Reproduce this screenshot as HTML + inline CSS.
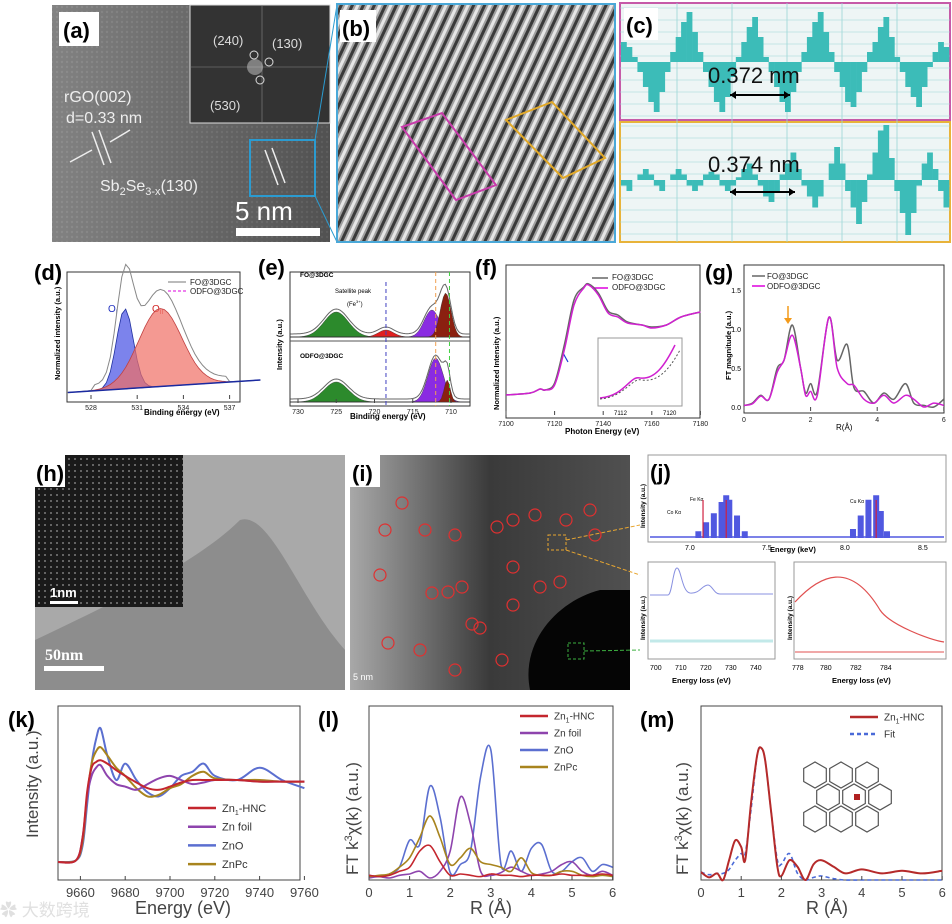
<!DOCTYPE html>
<html><head><meta charset="utf-8"><style>
html,body{margin:0;padding:0;background:#fff;}
svg{display:block;font-family:"Liberation Sans",Arial,sans-serif;}
.lab{font-size:22px;font-weight:bold;}
.t{font-size:8px;fill:#222;}
</style></head><body>
<svg id="s" width="952" height="924" viewBox="0 0 952 924" xmlns="http://www.w3.org/2000/svg">
<defs>
<pattern id="stripe" width="10" height="10" patternUnits="userSpaceOnUse" patternTransform="rotate(25)">
<rect width="10" height="10" fill="#a0a0a0"/><rect width="3" height="10" fill="#3a3a3a"/><rect x="5" width="3" height="10" fill="#e6e6e6"/></pattern>
<pattern id="dots" width="6" height="6" patternUnits="userSpaceOnUse"><rect width="6" height="6" fill="#1a1a1a"/><circle cx="3" cy="3" r="0.9" fill="#999"/></pattern>
<pattern id="noise" width="5" height="5" patternUnits="userSpaceOnUse"><rect width="5" height="5" fill="#6d6d6d"/><circle cx="2" cy="2" r="1.2" fill="#8a8a8a"/></pattern>
<linearGradient id="ga" x1="0" y1="0" x2="1" y2="0"><stop offset="0" stop-color="#909090"/><stop offset="1" stop-color="#3e3e3e"/></linearGradient>
<linearGradient id="gi" x1="0" y1="0" x2="1" y2="0"><stop offset="0" stop-color="#a8a8a8"/><stop offset="0.5" stop-color="#3a3a3a"/><stop offset="1" stop-color="#505050"/></linearGradient>
</defs>

<!-- (a) -->
<g>
<rect x="52" y="5" width="278" height="237" fill="url(#noise)"/>
<rect x="52" y="5" width="278" height="237" fill="url(#ga)" opacity="0.6"/>
<rect x="190" y="5" width="140" height="118" fill="#333" stroke="#ddd" stroke-width="1"/>
<line x1="190" y1="67" x2="330" y2="67" stroke="#888" stroke-width="0.6"/><line x1="262" y1="5" x2="262" y2="123" stroke="#888" stroke-width="0.6"/>
<circle cx="255" cy="67" r="8" fill="#ccc" opacity="0.5"/>
<circle cx="254" cy="55" r="4" fill="none" stroke="#ddd"/><circle cx="269" cy="62" r="4" fill="none" stroke="#ddd"/><circle cx="260" cy="80" r="4" fill="none" stroke="#ddd"/>
<text x="213" y="45" fill="#ddd" font-size="13">(240)</text><text x="272" y="48" fill="#ddd" font-size="13">(130)</text><text x="210" y="110" fill="#ddd" font-size="13">(530)</text>
<rect x="59" y="12" width="40" height="34" fill="#fff"/><text x="63" y="38" class="lab">(a)</text>
<text x="64" y="102" fill="#eee" font-size="16">rGO(002)</text><text x="66" y="123" fill="#eee" font-size="16">d=0.33 nm</text>
<line x1="92" y1="132" x2="104" y2="165" stroke="#eee" stroke-width="1.5"/><line x1="99" y1="130" x2="111" y2="163" stroke="#eee" stroke-width="1.5"/>
<line x1="70" y1="162" x2="92" y2="150" stroke="#eee" stroke-width="1.5"/><line x1="130" y1="130" x2="110" y2="142" stroke="#eee" stroke-width="1.5"/>
<rect x="250" y="140" width="65" height="56" fill="none" stroke="#2b9bd0" stroke-width="2"/>
<line x1="265" y1="150" x2="278" y2="185" stroke="#eee" stroke-width="1.5"/><line x1="272" y1="148" x2="285" y2="183" stroke="#eee" stroke-width="1.5"/>
<text x="100" y="191" fill="#eee" font-size="16">Sb<tspan font-size="11" dy="4">2</tspan><tspan dy="-4">Se</tspan><tspan font-size="11" dy="4">3-x</tspan><tspan dy="-4">(130)</tspan></text>
<text x="235" y="220" fill="#fff" font-size="26">5 nm</text>
<rect x="236" y="228" width="84" height="8" fill="#fff"/>
<line x1="315" y1="140" x2="337" y2="5" stroke="#2b9bd0"/><line x1="315" y1="196" x2="337" y2="242" stroke="#2b9bd0"/>
</g>

<!-- (b) -->
<g>
<rect x="337" y="4" width="278" height="238" fill="url(#stripe)" stroke="#4aa8d8" stroke-width="2"/>
<rect x="340" y="10" width="36" height="32" fill="#fff"/><text x="342" y="36" class="lab">(b)</text>
<polygon points="402,127 442,113 496,185 456,200" fill="none" stroke="#c83cab" stroke-width="2"/>
<polygon points="506,120 552,102 605,158 563,178" fill="none" stroke="#e2a928" stroke-width="2"/>
</g>

<!-- (c) -->
<g id="pc">
<rect x="620" y="3" width="330" height="117" fill="#eef5f5" stroke="#c65aa8" stroke-width="2"/>
<rect x="620" y="122" width="330" height="120" fill="#eef5f5" stroke="#e8b33a" stroke-width="2"/>
</g>

<!-- row 2 -->
<g id="pd"><text x="34" y="280" class="lab">(d)</text>
<rect x="67" y="272" width="173" height="130" fill="none" stroke="#333"/>
<text x="144" y="415" font-size="8" font-weight="bold">Binding energy (eV)</text>
<text x="60" y="380" font-size="7.5" font-weight="bold" transform="rotate(-90 60 380)">Normalized intensity (a.u.)</text>
<text x="190" y="285" class="t">FO@3DGC</text><text x="190" y="294" class="t">ODFO@3DGC</text>
<line x1="168" y1="282" x2="186" y2="282" stroke="#777"/><line x1="168" y1="291" x2="186" y2="291" stroke="#d0d" stroke-dasharray="3,2"/>
<text x="108" y="312" font-size="10" fill="#2030c0">O<tspan font-size="6" dy="2">I</tspan></text>
<text x="152" y="312" font-size="10" fill="#d02020">O<tspan font-size="6" dy="2">II</tspan></text>
</g>
<g id="pe"><text x="258" y="275" class="lab">(e)</text>
<rect x="290" y="272" width="180" height="134" fill="none" stroke="#333"/>
<line x1="290" y1="341" x2="470" y2="341" stroke="#555"/>
<text x="350" y="419" font-size="8" font-weight="bold">Binding energy (eV)</text>
<text x="282" y="370" font-size="7.5" font-weight="bold" transform="rotate(-90 282 370)">Intensity (a.u.)</text>
<text x="300" y="277" font-size="6.5" font-weight="bold">FO@3DGC</text><text x="300" y="358" font-size="6.5" font-weight="bold">ODFO@3DGC</text>
<text x="335" y="293" font-size="6">Satellite peak</text><text x="347" y="306" font-size="6">(Fe<tspan font-size="4" dy="-3">3+</tspan><tspan dy="3">)</tspan></text>
</g>
<g id="pf"><text x="475" y="275" class="lab">(f)</text>
<rect x="506" y="265" width="194" height="153" fill="none" stroke="#333"/>
<text x="565" y="434" font-size="8" font-weight="bold">Photon Energy (eV)</text>
<text x="499" y="410" font-size="7.5" font-weight="bold" transform="rotate(-90 499 410)">Normalized Intensity (a.u.)</text>
<text x="612" y="280" class="t">FO@3DGC</text><text x="612" y="290" class="t">ODFO@3DGC</text>
<line x1="592" y1="278" x2="608" y2="278" stroke="#666" stroke-width="1.5"/><line x1="592" y1="288" x2="608" y2="288" stroke="#d0d" stroke-width="1.5"/>
<rect x="598" y="338" width="84" height="68" fill="#fff" stroke="#999"/>
<text x="614" y="415" font-size="6">7112</text><text x="663" y="415" font-size="6">7120</text>
<line x1="563" y1="353" x2="568" y2="362" stroke="#1a3cd8" stroke-width="1.2"/>
</g>
<g id="pg"><text x="705" y="280" class="lab">(g)</text>
<rect x="744" y="265" width="200" height="148" fill="none" stroke="#333"/>
<text x="836" y="430" font-size="8">R(Å)</text>
<text x="731" y="380" font-size="7.5" font-weight="bold" transform="rotate(-90 731 380)">FT magnitude (a.u.)</text>
<text x="767" y="279" class="t">FO@3DGC</text><text x="767" y="289" class="t">ODFO@3DGC</text>
<line x1="752" y1="276" x2="765" y2="276" stroke="#666" stroke-width="1.5"/><line x1="752" y1="286" x2="765" y2="286" stroke="#d0d" stroke-width="1.5"/>
<line x1="788" y1="306" x2="788" y2="320" stroke="#f39a1a" stroke-width="1.5"/><path d="M784,318 l4,6 l4,-6z" fill="#f39a1a"/>
</g>

<!-- row 3 -->
<g>
<rect x="35" y="455" width="310" height="235" fill="#a9a9a9"/>
<path d="M35,640 C120,600 200,560 240,520 C270,510 300,600 345,650 L345,690 L35,690Z" fill="#8d8d8d"/>
<rect x="35" y="455" width="148" height="152" fill="url(#dots)"/>
<rect x="35" y="455" width="30" height="32" fill="#fff"/><text x="36" y="481" class="lab">(h)</text>
<text x="50" y="597" fill="#fff" font-size="13" font-weight="bold">1nm</text><rect x="50" y="601" width="28" height="3" fill="#fff"/>
<text x="45" y="660" fill="#fff" font-size="16" font-family="Liberation Serif" font-weight="bold">50nm</text><rect x="44" y="666" width="60" height="5" fill="#fff"/>
</g>
<g id="pi">
<rect x="350" y="455" width="280" height="235" fill="url(#gi)"/>
<path d="M530,690 C520,640 560,600 600,590 L630,590 L630,690Z" fill="#050505"/>
<rect x="350" y="455" width="30" height="32" fill="#fff"/><text x="352" y="481" class="lab">(i)</text>
<text x="353" y="680" fill="#fff" font-size="9">5 nm</text>
<rect x="548" y="535" width="18" height="15" fill="none" stroke="#e8a630" stroke-dasharray="3,2"/>
<rect x="568" y="643" width="16" height="16" fill="none" stroke="#3cb040" stroke-dasharray="3,2"/>
<line x1="566" y1="540" x2="640" y2="525" stroke="#e8a630" stroke-dasharray="4,2"/>
<line x1="566" y1="550" x2="640" y2="575" stroke="#e8a630" stroke-dasharray="4,2"/>
<line x1="584" y1="651" x2="640" y2="650" stroke="#3cb040" stroke-dasharray="4,2"/>
</g>
<g id="pj"><text x="650" y="480" class="lab">(j)</text>
<rect x="648" y="455" width="298" height="87" fill="none" stroke="#999"/>
<rect x="648" y="562" width="127" height="97" fill="none" stroke="#999"/>
<rect x="794" y="562" width="152" height="97" fill="none" stroke="#999"/>
<text x="770" y="552" font-size="7.5" font-weight="bold">Energy (keV)</text>
<text x="685" y="550" font-size="7">7.0</text><text x="762" y="550" font-size="7">7.5</text><text x="840" y="550" font-size="7">8.0</text><text x="918" y="550" font-size="7">8.5</text>
<text x="690" y="501" font-size="5">Fe Kα</text><text x="667" y="514" font-size="5">Co Kα</text><text x="850" y="503" font-size="5">Cu Kα</text>
<text x="645" y="528" font-size="6.5" font-weight="bold" transform="rotate(-90 645 528)">Intensity (a.u.)</text>
<text x="645" y="640" font-size="6.5" font-weight="bold" transform="rotate(-90 645 640)">Intensity (a.u.)</text>
<text x="792" y="640" font-size="6.5" font-weight="bold" transform="rotate(-90 792 640)">Intensity (a.u.)</text>
<text x="650" y="670" font-size="7">700</text><text x="675" y="670" font-size="7">710</text><text x="700" y="670" font-size="7">720</text><text x="725" y="670" font-size="7">730</text><text x="750" y="670" font-size="7">740</text>
<text x="672" y="683" font-size="7.5" font-weight="bold">Energy loss (eV)</text>
<text x="792" y="670" font-size="7">778</text><text x="820" y="670" font-size="7">780</text><text x="850" y="670" font-size="7">782</text><text x="880" y="670" font-size="7">784</text>
<text x="832" y="683" font-size="7.5" font-weight="bold">Energy loss (eV)</text>
</g>

<!-- row 4 -->
<g id="pk">
<text x="8" y="727" class="lab" font-weight="normal" font-size="24">(k)</text>
<rect x="58" y="706" width="242" height="174" fill="none" stroke="#444"/>
<text x="50" y="850" font-size="17" fill="#444" transform="rotate(-90 38 850)">Intensity (a.u.)</text>
<text x="135" y="914" font-size="18" fill="#444">Energy (eV)</text>
<text x="0" y="916" font-size="17" fill="#ccc" opacity="0.6">✿ 大数跨境</text>
</g>
<g id="pl">
<text x="318" y="727" class="lab" font-weight="normal" font-size="24">(l)</text>
<rect x="369" y="706" width="244" height="174" fill="none" stroke="#444"/>
<text x="358" y="875" font-size="17" fill="#444" transform="rotate(-90 358 875)">FT k<tspan font-size="11" dy="-6">3</tspan><tspan dy="6">χ(k) (a.u.)</tspan></text>
<text x="470" y="914" font-size="18" fill="#444">R (Å)</text>
</g>
<g id="pm">
<text x="640" y="727" class="lab" font-weight="normal" font-size="24">(m)</text>
<rect x="701" y="706" width="241" height="174" fill="none" stroke="#444"/>
<text x="688" y="875" font-size="17" fill="#444" transform="rotate(-90 688 875)">FT k<tspan font-size="11" dy="-6">3</tspan><tspan dy="6">χ(k) (a.u.)</tspan></text>
<text x="806" y="914" font-size="18" fill="#444">R (Å)</text>
</g>
</svg>
<script>
// ---------- data ----------
const kE=[9650,9658,9661,9663,9665,9667,9669,9672,9676,9680,9685,9690,9695,9700,9705,9710,9715,9720,9730,9740,9750,9760];
const kZn1=[0,0.02,0.3,0.85,1.15,1.22,1.24,1.2,1.12,1.05,0.97,0.9,0.88,0.92,0.97,1.0,1.0,1.0,1.0,0.98,0.98,0.98];
const kFoil=[0,0.02,0.3,0.8,1.05,1.15,1.18,1.05,0.95,0.92,0.88,0.95,1.02,1.05,1.0,0.95,0.97,1.0,1.0,0.98,0.98,0.98];
const kZnO=[0,0.02,0.2,0.7,1.2,1.5,1.63,1.3,1.0,1.2,1.0,0.85,0.8,0.9,1.05,1.1,1.2,1.05,1.0,1.15,1.0,0.9];
const kZnPc=[0,0.02,0.25,0.8,1.2,1.35,1.4,1.3,1.15,1.05,0.9,0.8,0.82,0.9,0.95,1.05,1.1,1.02,1.0,1.0,0.98,0.98];
const kTicks=[9660,9680,9700,9720,9740,9760];
const lR=[0,0.25,0.5,0.75,1,1.25,1.5,1.75,2,2.25,2.5,2.75,3,3.25,3.5,3.75,4,4.25,4.5,4.75,5,5.25,5.5,5.75,6];
const lZn1=[0.02,0.01,0.02,0.05,0.08,0.2,0.24,0.12,0.02,0.03,0.02,0.01,0.03,0.02,0.02,0.01,0.02,0.02,0.02,0.03,0.02,0.02,0.02,0.03,0.02];
const lFoil=[0,0.01,0,0.02,0.03,0.05,0,0.05,0.2,0.6,0.4,0.05,0.02,0.04,0.08,0.05,0.02,0.03,0.05,0.1,0.12,0.05,0.02,0.05,0.02];
const lZnO=[0.02,0.01,0.03,0.08,0.28,0.25,0.68,0.45,0.04,0.1,0.2,0.75,0.95,0.1,0.2,0.05,0.22,0.25,0.05,0.05,0.12,0.15,0.05,0.1,0.08];
const lZnPc=[0.01,0.02,0.03,0.08,0.15,0.3,0.46,0.3,0.1,0.15,0.22,0.12,0.1,0.08,0.05,0.15,0.04,0.02,0.02,0.05,0.05,0.02,0.01,0.02,0.01];
const rTicks=[0,1,2,3,4,5,6];
const mR=[0,0.2,0.4,0.55,0.7,0.85,1.0,1.1,1.25,1.4,1.5,1.6,1.75,1.9,2.0,2.2,2.4,2.6,2.8,3.0,3.3,3.6,4,4.5,5,5.5,6];
const mZn1=[0.06,0.02,0.05,0,0.15,0.3,0.25,0.15,0.6,0.95,1.0,0.9,0.5,0.1,0.03,0.15,0.1,0,0.12,0.15,0.1,0.05,0.08,0.05,0.07,0.05,0.07];
const mFit=[0.06,0.04,0.05,0.05,0.08,0.15,0.2,0.2,0.55,0.95,1.0,0.9,0.5,0.15,0.12,0.2,0.05,0,0.02,0.03,0.01,0,0,0,0,0,0];
const gR=[0,0.25,0.5,0.75,1,1.2,1.45,1.7,1.85,2,2.2,2.55,2.8,3.1,3.3,3.6,3.9,4.2,4.5,4.85,5.1,5.4,5.7,6];
const gFO=[0.02,0.05,0.15,0.1,0.5,0.6,1.05,0.5,0.18,0.3,0.2,1.15,0.6,0.8,0.25,0.2,0.05,0.18,0.1,0.3,0.05,0.02,0,0.1];
const gODFO=[0.02,0.04,0.14,0.1,0.45,0.6,0.92,0.5,0.15,0.2,0.15,1.15,0.5,0.3,0.28,0.1,0.05,0.15,0.05,0.15,0.1,0,0.05,0.02];
const gYTicks=[0,0.5,1.0,1.5];
const fE=[7100,7110,7114,7116,7120,7124,7128,7132,7134,7138,7142,7146,7150,7156,7160,7166,7172,7180];
const fFO=[0,0.02,0.06,0.05,0.12,0.5,0.95,1.08,1.11,1.02,0.84,0.8,0.73,0.7,0.68,0.7,0.78,0.83];
const fODFO=[0,0.02,0.06,0.05,0.1,0.45,0.9,1.07,1.1,1.0,0.82,0.78,0.72,0.7,0.67,0.7,0.78,0.83];
const fTicks=[7100,7120,7140,7160,7180];
const dCenters=[530.2,532.5];const dHeights=[80,78];const dWidths=[0.55,1.4];
const dTicks=[528,531,534,537];
const eTopCenters=[725,718.5,712.5,710.7];const eTopHeights=[25,7,27,44];const eTopWidths=[1.6,1.0,1.0,0.7];
const eBotCenters=[725,712,710.5];const eBotHeights=[20,44,22];const eBotWidths=[1.6,1.0,0.4];
const eTicks=[730,725,720,715,710];
const cTop=[0.4,0.3,0.1,-0.2,-0.5,-0.8,-1,-0.6,-0.2,0.2,0.5,0.8,1,0.6,0.2,-0.2,-0.5,-0.8,-1,-0.7,-0.3,0.1,0.4,0.7,0.9,0.5,0.1,-0.2,-0.5,-0.8,-1,-0.6,-0.2,0.2,0.5,0.8,1,0.6,0.2,-0.2,-0.5,-0.8,-0.9,-0.6,-0.2,0.2,0.4,0.7,0.9,0.5,0.1,-0.2,-0.5,-0.7,-0.9,-0.5,-0.1,0.2,0.4,0.3];
const cBot=[-0.1,-0.2,0,0.1,0.2,0.1,-0.1,-0.2,0,0.1,0.2,0.1,-0.1,-0.2,-0.1,0.1,0.15,0.1,-0.1,-0.2,-0.1,0.05,0.2,0.3,0.1,-0.1,-0.3,-0.4,-0.2,0.1,0.3,0.5,0.2,-0.1,-0.3,-0.5,-0.3,0,0.3,0.6,0.3,-0.2,-0.5,-0.8,-0.4,0.1,0.5,0.9,1,0.4,-0.2,-0.6,-1,-0.6,-0.1,0.3,0.5,0.2,-0.2,-0.5];
const jE=[6.9,6.95,7.0,7.05,7.08,7.1,7.15,7.2,7.9,7.95,8.0,8.05,8.08,8.12];
const jI=[0.15,0.35,0.55,0.8,0.95,0.85,0.5,0.15,0.2,0.5,0.85,0.95,0.6,0.15];

const S=document.getElementById('s'),NS='http://www.w3.org/2000/svg';
function el(tag,attrs,parent){const e=document.createElementNS(NS,tag);for(const k in attrs)e.setAttribute(k,attrs[k]);(parent||S).appendChild(e);return e;}
function smooth(pts){let d='M'+pts[0][0].toFixed(1)+','+pts[0][1].toFixed(1);
 for(let i=0;i<pts.length-1;i++){const p0=pts[i-1]||pts[i],p1=pts[i],p2=pts[i+1],p3=pts[i+2]||p2;
  d+=' C'+(p1[0]+(p2[0]-p0[0])/6).toFixed(1)+','+(p1[1]+(p2[1]-p0[1])/6).toFixed(1)+' '+(p2[0]-(p3[0]-p1[0])/6).toFixed(1)+','+(p2[1]-(p3[1]-p1[1])/6).toFixed(1)+' '+p2[0].toFixed(1)+','+p2[1].toFixed(1);}
 return d;}
function line(g,xs,ys,fx,fy,col,w,name,dash){const p=el('path',{d:smooth(xs.map((x,i)=>[fx(x),fy(ys[i])])),fill:'none',stroke:col,'stroke-width':w},g);
 if(dash)p.setAttribute('stroke-dasharray',dash);
 
 return p;}
function ticks(g,vals,fx,y,size,col,fmt){vals.forEach(v=>{const t=el('text',{x:fx(v),y:y,'text-anchor':'middle','font-size':size,fill:col},g);t.textContent=fmt?fmt(v):v;
 
 
 el('line',{x1:fx(v),x2:fx(v),y1:y-size-4,y2:y-size-8,stroke:'#444'},g);});}
function legend(g,x,y,names,cols,size,dash){names.forEach((n,i)=>{const l=el('line',{x1:x,x2:x+28,y1:y+i*size*1.7,y2:y+i*size*1.7,stroke:cols[i],'stroke-width':2.5},g);
 if(dash&&dash[i])l.setAttribute('stroke-dasharray',dash[i]);
 const t=el('text',{x:x+34,y:y+i*size*1.7+size*0.35,'font-size':size,fill:'#333'},g);t.innerHTML=n;
 
 });}
const C={zn1:'#c4262e',foil:'#8e44ad',zno:'#5b6fd0',pc:'#a8841e'};

// (k)
const gk=document.getElementById('pk');const kx=e=>58+(e-9650)*2.24,ky=v=>862-v*82;
line(gk,kE,kZnO,kx,ky,C.zno,2,'series-zno');line(gk,kE,kZnPc,kx,ky,C.pc,2,'series-znpc');
line(gk,kE,kFoil,kx,ky,C.foil,2,'series-zn-foil');line(gk,kE,kZn1,kx,ky,C.zn1,2,'series-zn1-hnc');
ticks(gk,kTicks,kx,897,13,'#444');
legend(gk,188,808,['Zn<tspan font-size="7" dy="3">1</tspan><tspan dy="-3">-HNC</tspan>','Zn foil','ZnO','ZnPc'],[C.zn1,C.foil,C.zno,C.pc],11);
// (l)
const gl=document.getElementById('pl');const lx=r=>369+r*40.6,ly=v=>878-v*135;
line(gl,lR,lZnO,lx,ly,C.zno,1.6,'series-zno');line(gl,lR,lFoil,lx,ly,C.foil,1.6,'series-zn-foil');
line(gl,lR,lZnPc,lx,ly,C.pc,1.6,'series-znpc');line(gl,lR,lZn1,lx,ly,C.zn1,1.6,'series-zn1-hnc');
ticks(gl,rTicks,lx,897,13,'#444');
legend(gl,520,716,['Zn<tspan font-size="7" dy="3">1</tspan><tspan dy="-3">-HNC</tspan>','Zn foil','ZnO','ZnPc'],[C.zn1,C.foil,C.zno,C.pc],10);
// (m)
const gm=document.getElementById('pm');const mx=r=>701+r*40.2,my=v=>880-v*132;
line(gm,mR,mFit,mx,my,'#4a6ad8',1.6,'series-fit','4,3');line(gm,mR,mZn1,mx,my,'#b52a2a',2,'series-zn1-hnc');
ticks(gm,rTicks,mx,897,13,'#444');
legend(gm,850,717,['Zn<tspan font-size="7" dy="3">1</tspan><tspan dy="-3">-HNC</tspan>','Fit'],['#b52a2a','#4a6ad8'],10,[null,'4,3']);
(function(){const cx=[0,1,2,0.5,1.5,2.5,0,1,2],cy=[0,0,0,1,1,1,2,2,2];
 for(let i=0;i<9;i++){const ox=815+cx[i]*26,oy=775+cy[i]*22;let pts=[];for(let a=0;a<6;a++){const t=Math.PI/3*a+Math.PI/6;pts.push((ox+13*Math.cos(t)).toFixed(1)+','+(oy+13*Math.sin(t)).toFixed(1));}
 el('polygon',{points:pts.join(' '),fill:'none',stroke:'#555','stroke-width':1.2},gm);}
 el('rect',{x:854,y:794,width:6,height:6,fill:'#b02020'},gm);})();
// (g)
const gg=document.getElementById('pg');const gx=r=>744+r*33.3,gy=v=>407-v*78;
line(gg,gR,gFO,gx,gy,'#666',1.5,'series-fo');line(gg,gR,gODFO,gx,gy,'#d020d0',1.5,'series-odfo');
ticks(gg,[0,2,4,6],gx,422,7,'#222');
gYTicks.forEach(v=>{const t=el('text',{x:741,y:gy(v)+3,'text-anchor':'end','font-size':7},gg);t.textContent=v.toFixed(1);
 
 });
// (f)
const gf=document.getElementById('pf');const fx=e=>506+(e-7100)*2.43,fy=v=>395-v*100;
line(gf,fE,fFO,fx,fy,'#666',1.5,'series-fo');line(gf,fE,fODFO,fx,fy,'#d020d0',1.5,'series-odfo');
ticks(gf,fTicks,fx,426,7,'#222');
el('path',{d:'M600,398 C625,396 630,375 640,378 C655,380 665,365 675,345',fill:'none',stroke:'#d020d0','stroke-width':1.5},gf);
el('path',{d:'M600,399 C625,397 632,377 642,380 C657,382 668,372 680,350',fill:'none',stroke:'#555','stroke-dasharray':'2,2'},gf);
// (d)
const gd=document.getElementById('pd');const dx=e=>91+(e-528)*15.4;
(function(){const base=e=>393-(e-526)*1.0;let es=[];for(let e=526.5;e<=539;e+=0.25)es.push(e);
 const cols=['rgba(80,90,230,0.75)','rgba(240,110,100,0.7)'];
 dCenters.forEach((c,i)=>{let d='M'+dx(es[0])+','+base(es[0]);es.forEach(e=>{d+=' L'+dx(e).toFixed(1)+','+(base(e)-dHeights[i]*Math.exp(-((e-c)**2)/(2*dWidths[i]**2))).toFixed(1);});
  d+=' L'+dx(es[es.length-1])+','+base(es[es.length-1])+'Z';const p=el('path',{d:d,fill:cols[i],stroke:i?'#c04040':'#2030a0','stroke-width':0.8},gd);
  
  });
 let d='';es.forEach((e,j)=>{let v=0;dCenters.forEach((c,i)=>v+=dHeights[i]*Math.exp(-((e-c)**2)/(2*dWidths[i]**2)));d+=(j?' L':'M')+dx(e).toFixed(1)+','+(base(e)-v*1.18-5*(e>528&&e<537)).toFixed(1);});
 el('path',{d:d,fill:'none',stroke:'#888','stroke-width':1},gd);
 el('line',{x1:dx(526.5),y1:base(526.5),x2:dx(539),y2:base(539),stroke:'#1a2aa0','stroke-width':1.5},gd);})();
ticks(gd,dTicks,dx,410,7,'#222');
// (e)
const ge=document.getElementById('pe');const ex=e=>298+(730-e)*7.65;
function eset(cs,hs,ws,by,cols){let es=[];for(let e=731;e>=707.5;e-=0.25)es.push(e);
 cs.forEach((c,i)=>{let d='M'+ex(es[0])+','+by;es.forEach(e=>{d+=' L'+ex(e).toFixed(1)+','+(by-hs[i]*Math.exp(-((e-c)**2)/(2*ws[i]**2))).toFixed(1);});d+=' L'+ex(es[es.length-1])+','+by+'Z';
  const p=el('path',{d:d,fill:cols[i],stroke:'#333','stroke-width':0.4},ge);
  
  });
 let d='';es.forEach((e,j)=>{let v=0;cs.forEach((c,i)=>v+=hs[i]*Math.exp(-((e-c)**2)/(2*ws[i]**2)));d+=(j?' L':'M')+ex(e).toFixed(1)+','+(by-v-3).toFixed(1);});
 el('path',{d:d,fill:'none',stroke:'#666','stroke-width':1},ge);}
eset(eTopCenters,eTopHeights,eTopWidths,337,['#2c8a2c','#e02020','#8a2be2','#8b2010']);
eset(eBotCenters,eBotHeights,eBotWidths,402,['#2c8a2c','#8a2be2','#8b2010']);
el('line',{x1:ex(718.5),x2:ex(718.5),y1:282,y2:406,stroke:'#4040c0','stroke-dasharray':'4,3'},ge);
el('line',{x1:ex(712),x2:ex(712),y1:272,y2:406,stroke:'#f0a050','stroke-dasharray':'4,3'},ge);
el('line',{x1:ex(710.2),x2:ex(710.2),y1:272,y2:406,stroke:'#40d040','stroke-dasharray':'4,3'},ge);
ticks(ge,eTicks,ex,414,7,'#222');
// (c) profiles
const gc=document.getElementById('pc');
[[8,118],[126,240]].forEach(r=>{for(let y=r[0];y<r[1];y+=12)el('line',{x1:620,x2:950,y1:y,y2:y,stroke:'#9ad6d6','stroke-width':0.6},gc);});
for(let x=677;x<950;x+=55)el('line',{x1:x,x2:x,y1:3,y2:242,stroke:'#9ad6d6','stroke-width':0.8},gc);
function prof(vals,mid,amp){const w=328/vals.length;vals.forEach((v,i)=>{const h=Math.abs(v)*amp;const r=el('rect',{x:(621+i*w).toFixed(1),y:v>0?mid-h:mid,width:(w+0.3).toFixed(1),height:h,fill:'#3cbcb8'},gc);
 
 });}
prof(cTop,62,50);prof(cBot,180,55);
(function(){const a=el('rect',{x:624,y:8,width:34,height:32,fill:'#fff'},gc);
 const t=el('text',{x:626,y:33,'class':'lab'},gc);t.textContent='(c)';
 const t1=el('text',{x:708,y:83,'font-size':22,fill:'#111'},gc);t1.textContent='0.372 nm';
 
 
 const t2=el('text',{x:708,y:172,'font-size':22,fill:'#111'},gc);t2.textContent='0.374 nm';
 
 
 el('line',{x1:730,x2:790,y1:95,y2:95,stroke:'#000','stroke-width':2},gc);
 el('line',{x1:730,x2:795,y1:192,y2:192,stroke:'#000','stroke-width':2},gc);
 el('path',{d:'M730,95 l6,-4 v8z M790,95 l-6,-4 v8z M730,192 l6,-4 v8z M795,192 l-6,-4 v8z',fill:'#000'},gc);})();
// (i) circles
const gi=document.getElementById('pi');
[[402,503],[385,530],[425,530],[455,535],[497,527],[535,515],[590,510],[595,535],[380,575],[432,593],[462,587],[513,520],[513,567],[472,624],[513,605],[388,643],[420,650],[455,670],[480,628],[502,660],[560,582],[448,592],[540,587],[566,520]].forEach(p=>{const c=el('circle',{cx:p[0],cy:p[1],r:6,fill:'none',stroke:'#e03030','stroke-width':1.2},gi);
 
 });
// (j)
const gj=document.getElementById('pj');const jx=e=>(652+(e-6.6)*154.6),jy=v=>538-v*45;
jE.forEach((e,i)=>{const b=el('rect',{x:jx(e)-3,y:jy(jI[i]),width:6,height:538-jy(jI[i]),fill:'#5058e0'},gj);
 
 });
el('line',{x1:650,x2:944,y1:537,y2:537,stroke:'#5058e0','stroke-width':1.5},gj);
[6.93,7.08,8.05].forEach(e=>el('line',{x1:jx(e),x2:jx(e),y1:500,y2:538,stroke:'#d02040','stroke-width':1.2},gj));
el('path',{d:'M650,595 L668,595 C672,595 673,568 677,568 C681,568 682,592 690,593 C700,594 702,585 708,585 C712,585 714,594 720,594 L773,594',fill:'none',stroke:'#8890e0','stroke-width':1},gj);
el('path',{d:'M650,641 L773,641',fill:'none',stroke:'#9adada','stroke-width':3,opacity:0.6},gj);
el('path',{d:'M795,602 C820,575 850,560 880,610 C890,625 930,640 944,642',fill:'none',stroke:'#e05050','stroke-width':1.2},gj);
el('path',{d:'M795,652 L944,652',fill:'none',stroke:'#e05050','stroke-width':1},gj);
</script>
</body></html>
